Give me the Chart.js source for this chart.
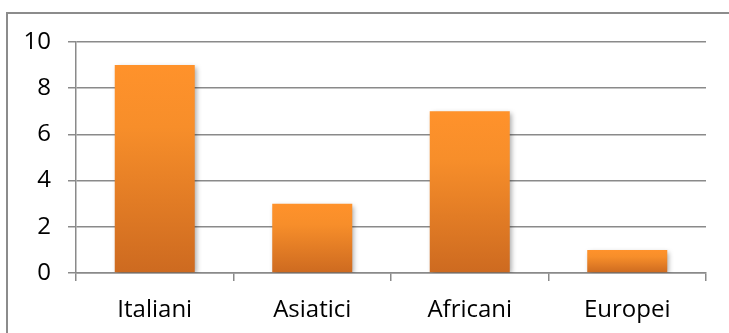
<!DOCTYPE html>
<html>
<head>
<meta charset="utf-8">
<style>
    html, body { margin: 0; padding: 0; background: #fff; }
    #wrap { width: 729px; height: 333px; position: relative; }
</style>
<script src="https://cdn.jsdelivr.net/npm/chart.js@4/dist/chart.umd.min.js"></script>
</head>
<body>
<div id="wrap"><canvas id="chart" width="729" height="333"></canvas></div>
<script>
/* Provenienza — bar chart */

const categories = ["Italiani", "Asiatici", "Africani", "Europei"];
const counts = [9, 3, 7, 1];
const yTicks = [0, 2, 4, 6, 8, 10];

const GRID = "#8a8a8a";
const FONT = "'Open Sans', 'Noto Sans', sans-serif";

// vertical orange gradient per bar, bright at the top and darker at the base
function barFill(ctx) {
    const chart = ctx.chart;
    const yScale = chart.scales.y;
    if (!chart.chartArea || !yScale || ctx.raw == null) return "#f79646";
    const top = yScale.getPixelForValue(ctx.raw);
    const base = yScale.getPixelForValue(0);
    const g = chart.ctx.createLinearGradient(0, top, 0, base);
    g.addColorStop(0, "#ff922b");
    g.addColorStop(0.3, "#f78e2a");
    g.addColorStop(1, "#cd6a20");
    return g;
}

// outer chart frame (right and bottom edges fall outside the canvas)
const framePlugin = {
    id: "frame",
    beforeDraw(chart) {
        const c = chart.ctx;
        c.save();
        c.strokeStyle = "#8c8c8c";
        c.lineWidth = 2;
        c.strokeRect(7, 13, 760, 360);
        c.restore();
    }
};

// soft drop shadow under the bars
const shadowPlugin = {
    id: "barShadow",
    beforeDatasetsDraw(chart) {
        const c = chart.ctx;
        c.save();
        c.shadowColor = "rgba(0,0,0,0.35)";
        c.shadowBlur = 5;
        c.shadowOffsetX = 2;
        c.shadowOffsetY = 2;
    },
    afterDatasetsDraw(chart) {
        chart.ctx.restore();
    }
};

new Chart(document.getElementById("chart"), {
    type: "bar",
    data: {
        labels: categories,
        datasets: [{
            data: counts,
            backgroundColor: barFill,
            borderWidth: 0,
            categoryPercentage: 1,
            barPercentage: 0.508
        }]
    },
    options: {
        responsive: false,
        animation: false,
        layout: { padding: { top: 42, right: 23, left: 0, bottom: 0 } },
        plugins: {
            legend: { display: false },
            tooltip: { enabled: false }
        },
        scales: {
            x: {
                grid: {
                    offset: true,
                    drawOnChartArea: false,
                    drawTicks: true,
                    tickLength: 8,
                    color: GRID,
                    lineWidth: 1.5
                },
                border: { display: true, color: GRID, width: 1.5 },
                ticks: {
                    color: "#000",
                    padding: 15,
                    font: { family: FONT, size: 24 }
                },
                afterFit(scale) { scale.height = 60; }
            },
            y: {
                min: 0,
                max: 10,
                afterBuildTicks(scale) {
                    scale.ticks = yTicks.map(v => ({ value: v }));
                },
                grid: {
                    color: GRID,
                    lineWidth: 1.5,
                    drawTicks: true,
                    tickLength: 8
                },
                border: { display: true, color: GRID, width: 1.5 },
                ticks: {
                    color: "#000",
                    padding: 17,
                    font: { family: FONT, size: 24 }
                },
                afterFit(scale) { scale.width = 76; }
            }
        }
    },
    plugins: [framePlugin, shadowPlugin]
});
</script>
</body>
</html>
